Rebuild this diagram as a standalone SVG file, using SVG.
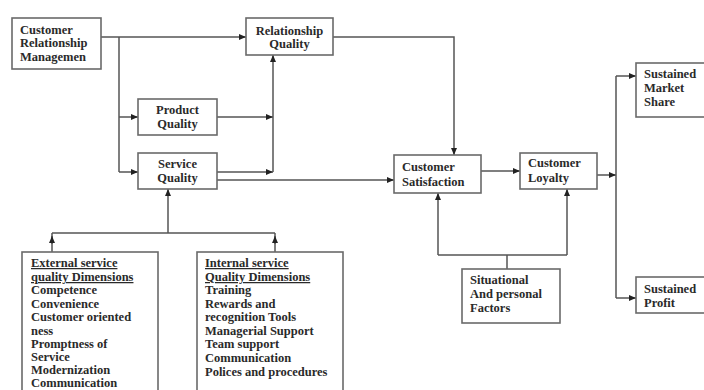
<svg xmlns="http://www.w3.org/2000/svg" width="704" height="390" viewBox="0 0 704 390">
<defs>
<marker id="ah" markerWidth="7" markerHeight="6" refX="7" refY="3" orient="auto" markerUnits="userSpaceOnUse">
<path d="M0,0 L7,3 L0,6 z" fill="#222"/>
</marker>
<style>
.box{fill:#fff;stroke:#6a6a6a;stroke-width:1.6}
.t{font-family:"Liberation Serif","Times New Roman",serif;font-weight:bold;font-size:12.5px;fill:#2a2a2a}
.c{text-anchor:middle}
.u{text-decoration:underline}
.ln{fill:none;stroke:#555;stroke-width:1.5}
.la{fill:none;stroke:#555;stroke-width:1.5;marker-end:url(#ah)}
</style>
</defs>
<rect width="704" height="390" fill="#fff"/>
<g id="connectors">
<path class="la" d="M101,37 H246"/>
<path class="ln" d="M119,37 V172"/>
<path class="la" d="M119,117 H138"/>
<path class="la" d="M119,172 H138"/>
<path class="la" d="M217,117 H273"/>
<path class="la" d="M217,172 H273"/>
<path class="la" d="M273,172 V55"/>
<path class="la" d="M217,180 H394"/>
<path class="la" d="M333,37 H454 V155"/>
<path class="la" d="M481,171 H520"/>
<path class="la" d="M597,175 H616"/>
<path class="ln" d="M616,76 V298"/>
<path class="la" d="M616,76 H636"/>
<path class="la" d="M616,298 H636"/>
<path class="ln" d="M507,269 V255"/>
<path class="ln" d="M438,255 H567"/>
<path class="la" d="M438,255 V193"/>
<path class="la" d="M567,255 V189"/>
<path class="la" d="M168,233 V189"/>
<path class="ln" d="M52,233 H275"/>
<path class="ln" d="M52,233 V252"/>
<path class="ln" d="M275,233 V252"/>
<path class="la" d="M52,244 V236"/>
<path class="la" d="M275,244 V236"/>
</g>
<g id="crm">
<rect class="box" x="12" y="18" width="89" height="51"/>
<text class="t" x="20" y="34">Customer</text>
<text class="t" x="20" y="47">Relationship</text>
<text class="t" x="20" y="61">Managemen</text>
</g>
<g id="relationship-quality">
<rect class="box" x="246" y="18" width="87" height="37"/>
<text class="t c" x="289.5" y="35">Relationship</text>
<text class="t c" x="289.5" y="48">Quality</text>
</g>
<g id="product-quality">
<rect class="box" x="138" y="99" width="79" height="36"/>
<text class="t c" x="177.5" y="114">Product</text>
<text class="t c" x="177.5" y="128">Quality</text>
</g>
<g id="service-quality">
<rect class="box" x="138" y="153" width="79" height="36"/>
<text class="t c" x="177.5" y="168">Service</text>
<text class="t c" x="177.5" y="182">Quality</text>
</g>
<g id="customer-satisfaction">
<rect class="box" x="394" y="155" width="87" height="38"/>
<text class="t" x="402" y="171">Customer</text>
<text class="t" x="402" y="186">Satisfaction</text>
</g>
<g id="customer-loyalty">
<rect class="box" x="520" y="153" width="77" height="36"/>
<text class="t" x="528" y="167">Customer</text>
<text class="t" x="528" y="182">Loyalty</text>
</g>
<g id="sustained-market-share">
<rect class="box" x="636" y="63" width="80" height="54"/>
<text class="t" x="644" y="78">Sustained</text>
<text class="t" x="644" y="92">Market</text>
<text class="t" x="644" y="106">Share</text>
</g>
<g id="sustained-profit">
<rect class="box" x="636" y="277" width="80" height="36"/>
<text class="t" x="644" y="293">Sustained</text>
<text class="t" x="644" y="307">Profit</text>
</g>
<g id="situational-factors">
<rect class="box" x="462" y="269" width="98" height="54"/>
<text class="t" x="470" y="284">Situational</text>
<text class="t" x="470" y="298">And personal</text>
<text class="t" x="470" y="312">Factors</text>
</g>
<g id="external-dimensions">
<rect class="box" x="22" y="252" width="136" height="150"/>
<text class="t u" x="31" y="267">External service</text>
<text class="t u" x="31" y="281">quality Dimensions</text>
<text class="t" x="31" y="294">Competence</text>
<text class="t" x="31" y="308">Convenience</text>
<text class="t" x="31" y="321">Customer oriented</text>
<text class="t" x="31" y="335">ness</text>
<text class="t" x="31" y="348">Promptness of</text>
<text class="t" x="31" y="361">Service</text>
<text class="t" x="31" y="374">Modernization</text>
<text class="t" x="31" y="387">Communication</text>
</g>
<g id="internal-dimensions">
<rect class="box" x="197" y="252" width="146" height="150"/>
<text class="t u" x="205" y="267">Internal service</text>
<text class="t u" x="205" y="281">Quality Dimensions</text>
<text class="t" x="205" y="294">Training</text>
<text class="t" x="205" y="308">Rewards and</text>
<text class="t" x="205" y="321">recognition Tools</text>
<text class="t" x="205" y="335">Managerial Support</text>
<text class="t" x="205" y="348">Team support</text>
<text class="t" x="205" y="362">Communication</text>
<text class="t" x="205" y="376">Polices and procedures</text>
</g>
</svg>
